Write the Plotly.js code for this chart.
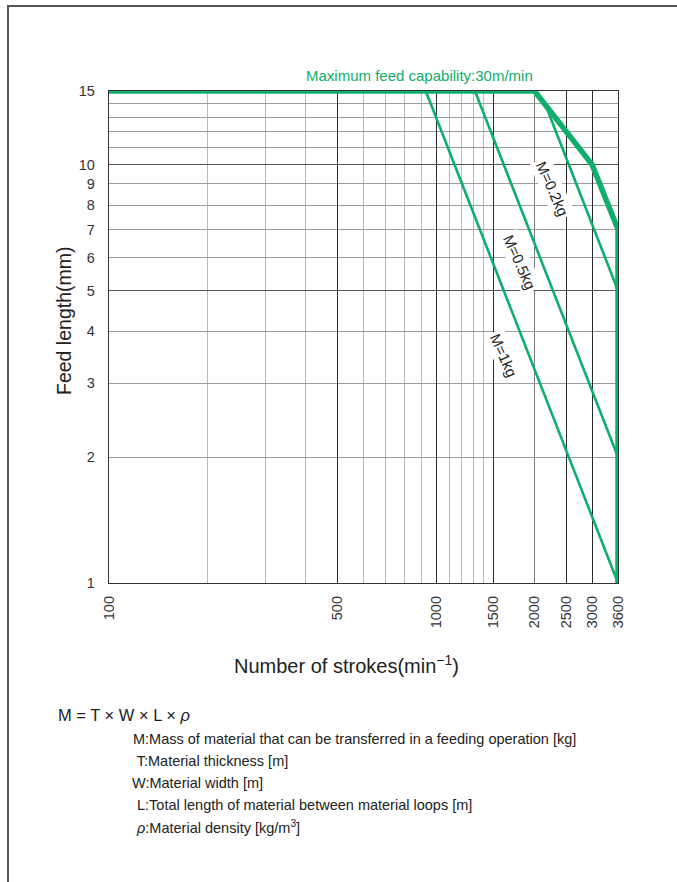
<!DOCTYPE html>
<html>
<head>
<meta charset="utf-8">
<script src="https://cdn.plot.ly/plotly-3.0.1.min.js"></script>
<style>
  html, body { margin: 0; padding: 0; background: #fff; }
  #wrap { position: relative; width: 677px; height: 882px; overflow: hidden; }
  #chart { position: absolute; left: 0; top: 0; width: 677px; height: 882px; }
  .frameTop { position: absolute; left: 7px; top: 5px; width: 670px; height: 2px; background: #555; }
  .frameLeft { position: absolute; left: 7px; top: 5px; width: 2px; height: 877px; background: #555; }
</style>
</head>
<body>
<div id="wrap">
  <div id="chart"></div>
  <div class="frameTop"></div>
  <div class="frameLeft"></div>
</div>
<script>
// ---- data ----
const xTickVals = [100, 500, 1000, 1500, 2000, 2500, 3000, 3600];
const xTickText = ['100', '500', '1000', '1500', '2000', '2500', '3000', '3600'];
const xMinorVals = [200, 300, 400, 600, 700, 800, 900, 1100, 1200, 1300, 1400];
const xDarkVals = [500, 1000, 1500, 2500, 3000];
const yTickVals = [1, 2, 3, 4, 5, 6, 7, 8, 9, 10, 15];
const yTickText = ['1', '2', '3', '4', '5', '6', '7', '8', '9', '10', '15'];
const yMinorVals = [11, 12, 13, 14];
const yDarkVals = [5, 10];

const maxFeedStrokes = [100, 2000, 3000, 3600, 3600];
const maxFeedLength = [15, 15, 10, 7, 1];
const m02Strokes = [2160, 3600];
const m02Length = [13.9, 5];
const m05Strokes = [1315, 3600];
const m05Length = [15, 2];
const m1Strokes = [930, 3600];
const m1Length = [15, 1];

const massLabels = ['M=0.2kg', 'M=0.5kg', 'M=1kg'];
const labelStrokes = [2263, 1807, 1603];
const labelLength = [8.75, 5.85, 3.51];

const titleText = 'Maximum feed capability:30m/min';
const xTitle = 'Number of strokes(min<sup>−1</sup>)';
const yTitle = 'Feed length(mm)';
const formulaText = 'M = T × W × L × <i>ρ</i>';
const noteLines = [
  'M:Mass of material that can be transferred in a feeding operation [kg]',
  ' T:Material thickness [m]',
  'W:Material width [m]',
  ' L:Total length of material between material loops [m]',
  ' <i>ρ</i>:Material density [kg/m<sup>3</sup>]'
];

// ---- layout helpers ----
const W = 677, H = 882;
const mL = 109, mR = 59, mT = 91, mB = 299;
const pw = W - mL - mR, ph = H - mT - mB;
const px = x => (x - mL) / pw;
const py = y => (mT + ph - y) / ph;

const GREEN = '#0eae6c';
const FONT = '"Liberation Sans", Arial, Helvetica, sans-serif';

const traces = [
  { x: m1Strokes, y: m1Length, mode: 'lines', line: { color: GREEN, width: 2.6 }, hoverinfo: 'skip' },
  { x: m05Strokes, y: m05Length, mode: 'lines', line: { color: GREEN, width: 2.6 }, hoverinfo: 'skip' },
  { x: m02Strokes, y: m02Length, mode: 'lines', line: { color: GREEN, width: 2.6 }, hoverinfo: 'skip' },
  { x: maxFeedStrokes, y: maxFeedLength, xaxis: 'x2', yaxis: 'y2', mode: 'lines',
    line: { color: GREEN, width: 5.5, shape: 'linear' }, hoverinfo: 'skip' }
];

const xRange = [Math.log10(xTickVals[0]), Math.log10(xTickVals[xTickVals.length - 1])];
const yRange = [Math.log10(yTickVals[0]), Math.log10(yTickVals[yTickVals.length - 1])];

const annotations = [];
massLabels.forEach((t, i) => {
  annotations.push({
    x: Math.log10(labelStrokes[i]), y: Math.log10(labelLength[i]), xref: 'x', yref: 'y',
    text: t, showarrow: false, textangle: 66,
    font: { family: FONT, size: 15, color: '#222' },
    bgcolor: '#ffffff', borderpad: 2
  });
});
annotations.push({
  xref: 'paper', yref: 'paper', x: px(419), y: py(76), text: titleText, showarrow: false,
  xanchor: 'center', yanchor: 'middle', font: { family: FONT, size: 15, color: GREEN }
});
annotations.push({
  xref: 'paper', yref: 'paper', x: px(346), y: py(664), text: xTitle, showarrow: false,
  xanchor: 'center', yanchor: 'middle', font: { family: FONT, size: 20, color: '#222' }
});
annotations.push({
  xref: 'paper', yref: 'paper', x: px(64), y: py(321), text: yTitle, showarrow: false,
  textangle: -90, xanchor: 'center', yanchor: 'middle', font: { family: FONT, size: 19.5, color: '#222' }
});
annotations.push({
  xref: 'paper', yref: 'paper', x: px(56), y: py(715), text: formulaText, showarrow: false,
  xanchor: 'left', yanchor: 'middle', font: { family: FONT, size: 16.5, color: '#222' }
});
const noteX = [131, 131, 130, 131, 131];
noteLines.forEach((t, i) => {
  annotations.push({
    xref: 'paper', yref: 'paper', x: px(noteX[i]), y: py(739 + 22 * i), text: t, showarrow: false,
    xanchor: 'left', yanchor: 'middle', font: { family: FONT, size: 14.5, color: '#222' }
  });
});

const layout = {
  width: W, height: H,
  margin: { l: mL, r: mR, t: mT, b: mB, pad: 0 },
  paper_bgcolor: '#ffffff', plot_bgcolor: '#ffffff',
  showlegend: false, hovermode: false,
  font: { family: FONT, color: '#222' },
  xaxis: {
    type: 'log', range: xRange, tickmode: 'array', tickvals: xTickVals, ticktext: xTickText,
    tickangle: -90, ticks: '', ticklabelstandoff: 6, tickfont: { family: FONT, size: 14.5, color: '#333' },
    showgrid: true, gridcolor: '#7a7a7a', gridwidth: 1,
    minor: { tickmode: 'array', tickvals: xMinorVals, showgrid: true, gridcolor: '#b9b9b9', gridwidth: 1, ticks: '' },
    showline: true, linecolor: '#333', linewidth: 1.2, mirror: true, zeroline: false
  },
  yaxis: {
    type: 'log', range: yRange, tickmode: 'array', tickvals: yTickVals, ticktext: yTickText,
    ticks: '', ticklabelstandoff: 10, tickfont: { family: FONT, size: 14.5, color: '#333' },
    showgrid: true, gridcolor: '#9c9c9c', gridwidth: 1,
    minor: { tickmode: 'array', tickvals: yMinorVals, showgrid: true, gridcolor: '#9c9c9c', gridwidth: 1, ticks: '' },
    showline: true, linecolor: '#333', linewidth: 1.2, mirror: true, zeroline: false
  },
  xaxis2: {
    type: 'log', range: xRange, overlaying: 'x', anchor: 'y2', tickmode: 'array', tickvals: xDarkVals,
    showticklabels: false, ticks: '', showgrid: true, gridcolor: '#2a2a2a', gridwidth: 1,
    showline: false, zeroline: false
  },
  yaxis2: {
    type: 'log', range: yRange, overlaying: 'y', anchor: 'x2', tickmode: 'array', tickvals: yDarkVals,
    showticklabels: false, ticks: '', showgrid: true, gridcolor: '#555555', gridwidth: 1.2,
    showline: false, zeroline: false
  },
  annotations: annotations
};

Plotly.newPlot('chart', traces, layout, { staticPlot: true, displayModeBar: false });
</script>
</body>
</html>
